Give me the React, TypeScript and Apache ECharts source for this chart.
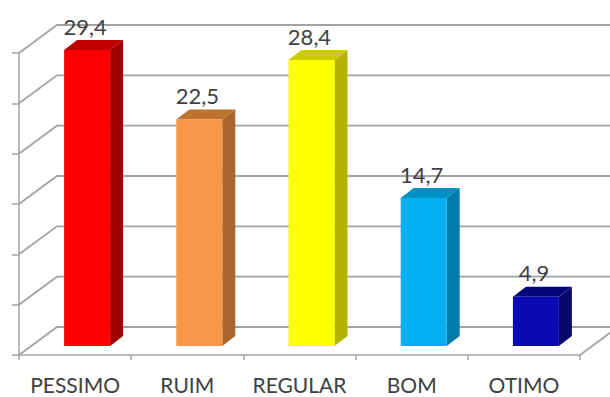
import React, { useEffect, useRef } from "react";
import * as echarts from "echarts";

const categories = ["PESSIMO", "RUIM", "REGULAR", "BOM", "OTIMO"];
const values = [29.4, 22.5, 28.4, 14.7, 4.9];
const yTicks = [0, 5, 10, 15, 20, 25, 30];

const frontColors = ["#FF0000", "#F79646", "#FFFF00", "#00B0F0", "#0A0AB4"];
const topColors = ["#C00000", "#C0732F", "#CCCC00", "#0090C4", "#06067C"];
const sideColors = ["#A00000", "#A9652C", "#B3B300", "#007BAA", "#07076A"];

const DEPTH_X = 38;
const DEPTH_Y = -28;
const BAR_OFF_X = 12;
const BAR_OFF_Y = -9;
const BAR_W = 46;
const SIDE_X = 13;
const SIDE_Y = -10;
const GRID_COLOR = "#A3A3A3";
const FONT = "Lato";

const fmt = (v: number) => v.toFixed(1).replace(".", ",");

export default function App() {
  const ref = useRef<HTMLDivElement>(null);
  useEffect(() => {
    if (!ref.current) return;
    const chart = echarts.init(ref.current, null, { renderer: "svg" });
    chart.setOption({
      animation: false,
      backgroundColor: "#ffffff",
      grid: { left: 19, right: 30, top: 53, bottom: 42 },
      xAxis: {
        type: "category",
        data: categories,
        boundaryGap: true,
        axisLine: { show: true, lineStyle: { color: GRID_COLOR, width: 1.5 } },
        axisTick: { show: true, interval: 0, length: 5, lineStyle: { color: GRID_COLOR, width: 1.5 } },
        axisLabel: { interval: 0, fontSize: 21, color: "#404040", fontFamily: FONT, margin: 19 },
        splitLine: { show: false },
      },
      yAxis: {
        type: "value",
        min: 0,
        max: 30,
        interval: 5,
        axisLine: { show: true, lineStyle: { color: GRID_COLOR, width: 1.5 } },
        axisTick: { show: true, length: 7, lineStyle: { color: GRID_COLOR, width: 1.5 } },
        axisLabel: { show: false },
        splitLine: { show: false },
      },
      series: [
        {
          type: "custom",
          clip: false,
          silent: true,
          z: 1,
          data: yTicks.map((v) => [0, v]),
          renderItem: (params: any, api: any) => {
            const v = api.value(1);
            const p = api.coord([0, v]);
            const cs = params.coordSys;
            const xl = cs.x;
            const xr = cs.x + cs.width;
            const children: any[] = [
              {
                type: "polyline",
                shape: {
                  points: [
                    [xl, p[1]],
                    [xl + DEPTH_X, p[1] + DEPTH_Y],
                    [xr + DEPTH_X + 40, p[1] + DEPTH_Y],
                  ],
                },
                style: { stroke: GRID_COLOR, lineWidth: 1.8, fill: "none" },
              },
            ];
            if (v === 0) {
              children.push({
                type: "line",
                shape: { x1: xr, y1: p[1], x2: xr + DEPTH_X, y2: p[1] + DEPTH_Y },
                style: { stroke: GRID_COLOR, lineWidth: 1.8 },
              });
            }
            return { type: "group", children };
          },
        },
        {
          type: "custom",
          clip: false,
          z: 5,
          data: values.map((v, i) => [i, v]),
          renderItem: (params: any, api: any) => {
            const i = api.value(0);
            const v = api.value(1);
            const top = api.coord([i, v]);
            const bot = api.coord([i, 0]);
            const cx = top[0] + BAR_OFF_X;
            const x1 = cx - BAR_W / 2;
            const x2 = cx + BAR_W / 2;
            const yt = top[1] + BAR_OFF_Y;
            const yb = bot[1] + BAR_OFF_Y;
            return {
              type: "group",
              children: [
                {
                  type: "polygon",
                  shape: {
                    points: [
                      [x2, yt],
                      [x2 + SIDE_X, yt + SIDE_Y],
                      [x2 + SIDE_X, yb + SIDE_Y],
                      [x2, yb],
                    ],
                  },
                  style: { fill: sideColors[i] },
                },
                {
                  type: "polygon",
                  shape: {
                    points: [
                      [x1, yt],
                      [x2, yt],
                      [x2 + SIDE_X, yt + SIDE_Y],
                      [x1 + SIDE_X, yt + SIDE_Y],
                    ],
                  },
                  style: { fill: topColors[i] },
                },
                {
                  type: "rect",
                  shape: { x: x1, y: yt, width: BAR_W, height: yb - yt },
                  style: { fill: frontColors[i] },
                },
                {
                  type: "text",
                  x: cx - 2,
                  y: yt + SIDE_Y - 3,
                  style: {
                    text: fmt(v),
                    fill: "#404040",
                    fontSize: 22,
                    fontFamily: FONT,
                    align: "center",
                    verticalAlign: "bottom",
                  },
                },
              ],
            };
          },
        },
      ],
    });
    return () => chart.dispose();
  }, []);
  return (
    <div
      ref={ref}
      style={{ position: "absolute", left: 0, top: 0, width: 610, height: 397 }}
    />
  );
}
